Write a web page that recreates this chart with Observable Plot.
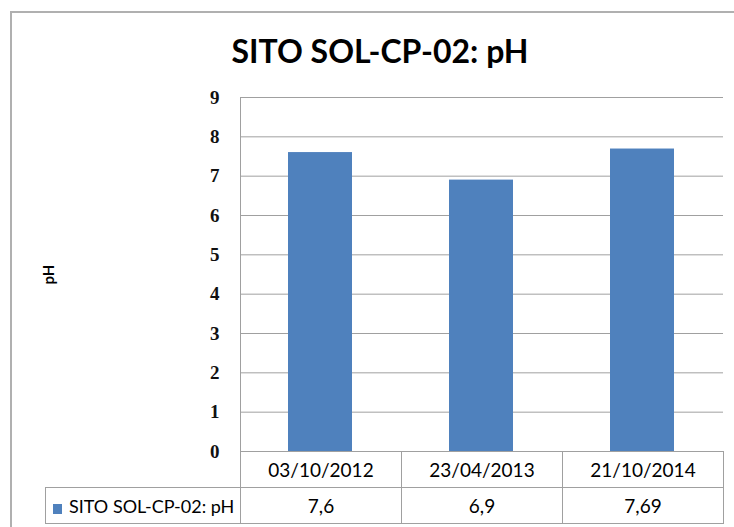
<!DOCTYPE html>
<html>
<head>
<meta charset="utf-8">
<script src="https://cdn.jsdelivr.net/npm/d3@7"></script>
<script src="https://cdn.jsdelivr.net/npm/@observablehq/plot@0.6"></script>
<style>
  html, body { margin: 0; padding: 0; background: #fff; overflow: hidden; }
  #wrap { position: relative; width: 734px; height: 527px; overflow: hidden; background: #fff; }
  #frame { position: absolute; left: 10px; top: 11px; width: 760px; height: 560px; border: 2px solid #b0b0b0; box-sizing: border-box; }
  #title { position: absolute; left: 0; top: 35px; width: 760px; text-align: center; font-family: Lato, sans-serif; font-weight: bold; font-size: 32px; line-height: 1; color: #000; }
  #chart { position: absolute; left: 0; top: 0; }
  #table { position: absolute; left: 45px; top: 451px; border-collapse: collapse; font-family: Lato, sans-serif; font-size: 19px; color: #000; }
  #table td { border: 1px solid #a0a0a0; text-align: center; padding: 0; box-sizing: border-box; }
  #table td.empty { border: none; }
  #table td.leg { text-align: left; padding-left: 7px; white-space: nowrap; font-size: 18px; }
  .sw { display: inline-block; width: 9px; height: 10px; margin-right: 7px; vertical-align: -1px; }
</style>
</head>
<body>
<div id="wrap">
  <div id="frame"></div>
  <div id="title"></div>
  <div id="chart"></div>
  <table id="table"></table>
</div>
<script>
const title = "SITO SOL-CP-02: pH";
const seriesName = "SITO SOL-CP-02: pH";
const yLabel = "pH";
const dates = ["03/10/2012", "23/04/2013", "21/10/2014"];
const values = [7.6, 6.9, 7.69];
const yTicks = [0, 1, 2, 3, 4, 5, 6, 7, 8, 9];
const barColor = "#4f81bd";

const data = dates.map((d, i) => ({date: d, value: values[i]}));

document.getElementById("title").textContent = title;

const chart = Plot.plot({
  width: 734,
  height: 465,
  marginTop: 97,
  marginBottom: 14,
  marginLeft: 240,
  marginRight: 11,
  x: {domain: dates, paddingInner: 0.6, paddingOuter: 0.3, axis: null},
  y: {domain: [0, 9]},
  marks: [
    Plot.gridY(yTicks, {stroke: "#a0a0a0", strokeOpacity: 1, strokeWidth: 1}),
    Plot.barY(data, {x: "date", y: "value", fill: barColor}),
    Plot.frame({anchor: "left", stroke: "#a0a0a0", strokeWidth: 1}),
    Plot.axisY({ticks: yTicks, tickSize: 0, tickPadding: 21, label: null, tickFormat: d => String(d),
      fontFamily: "Liberation Serif", fontSize: 19, fontWeight: "bold", fill: "#111"}),
    Plot.axisY({ticks: [], tickSize: 0, label: yLabel, labelAnchor: "center", labelArrow: "none", labelOffset: 197,
      fontFamily: "Lato", fontSize: 15, fontWeight: "bold", fill: "#000"})
  ]
});
document.getElementById("chart").appendChild(chart);

// data table (category row + value row with legend key)
const table = document.getElementById("table");
const r1 = table.insertRow();
const c0 = r1.insertCell(); c0.className = "empty"; c0.style.width = "195px";
dates.forEach(d => { const c = r1.insertCell(); c.textContent = d; c.style.width = "161px"; c.style.height = "36px"; });
const r2 = table.insertRow();
const lc = r2.insertCell(); lc.className = "leg";
const sw = document.createElement("span"); sw.className = "sw"; sw.style.background = barColor;
lc.appendChild(sw); lc.appendChild(document.createTextNode(seriesName));
values.forEach(v => { const c = r2.insertCell(); c.textContent = String(v).replace(".", ","); c.style.height = "36px"; });
</script>
</body>
</html>
